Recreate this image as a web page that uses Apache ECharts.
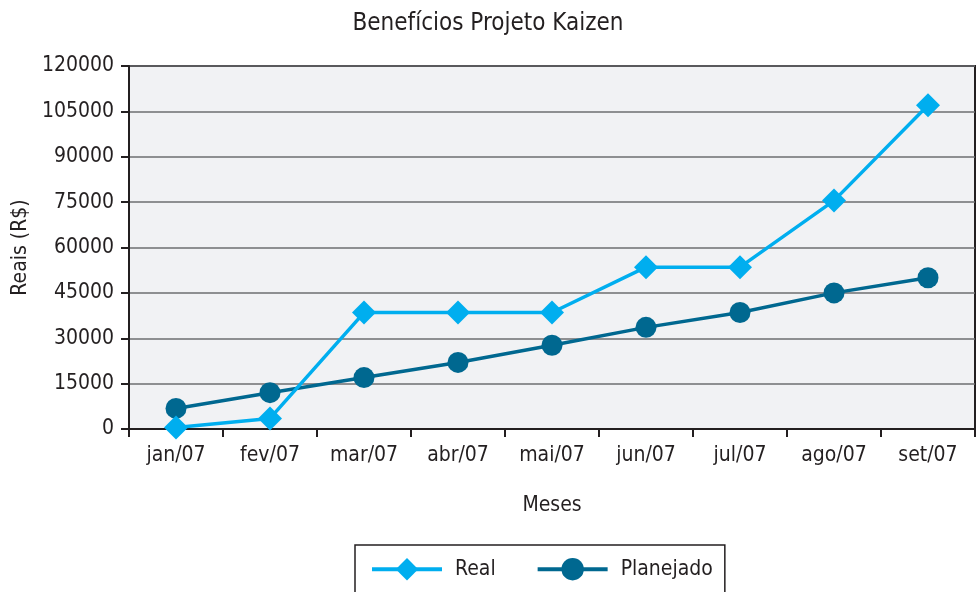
<!DOCTYPE html>
<html>
<head>
<meta charset="utf-8">
<script src="https://cdn.jsdelivr.net/npm/echarts@6/dist/echarts.min.js"></script>
<style>
html, body { margin: 0; padding: 0; background: #fff; }
#chart { width: 976px; height: 592px; }
</style>
</head>
<body>
<div id="chart"></div>
<script>
var meses = ['jan/07', 'fev/07', 'mar/07', 'abr/07', 'mai/07', 'jun/07', 'jul/07', 'ago/07', 'set/07'];
var real = [500, 3500, 38500, 38500, 38500, 53500, 53500, 75500, 107000];
var planejado = [6800, 12000, 17000, 22000, 27700, 33600, 38500, 45000, 50000];

var fonte = '"Liberation Sans Narrow", "DejaVu Sans Condensed", sans-serif';
var corTexto = '#231f20';

var myChart = echarts.init(document.getElementById('chart'));

var option = {
    animation: false,
    title: {
        text: 'Benefícios Projeto Kaizen',
        left: 'center',
        top: 7,
        textStyle: { fontFamily: fonte, fontSize: 24, fontWeight: 'normal', color: corTexto }
    },
    legend: {
        data: ['Real', 'Planejado'],
        left: 355,
        top: 545,
        itemWidth: 70,
        itemHeight: 28,
        itemGap: 40,
        padding: [13, 12, 40, 15],
        borderColor: corTexto,
        borderWidth: 1.5,
        lineStyle: { width: 4 },
        textStyle: { fontFamily: fonte, fontSize: 21, color: corTexto, padding: [0, 0, 0, 8] }
    },
    grid: {
        left: 129,
        right: 1,
        top: 66,
        bottom: 163,
        show: true,
        backgroundColor: '#f1f2f4',
        borderColor: corTexto,
        borderWidth: 2
    },
    xAxis: {
        type: 'category',
        data: meses,
        boundaryGap: true,
        name: 'Meses',
        nameLocation: 'middle',
        nameGap: 66,
        nameTextStyle: { fontFamily: fonte, fontSize: 21, color: corTexto },
        axisLine: { lineStyle: { color: corTexto, width: 2 } },
        axisTick: { show: true, length: 8, lineStyle: { color: corTexto, width: 2 } },
        axisLabel: { fontFamily: fonte, fontSize: 21, color: corTexto, margin: 16 },
        splitLine: { show: false }
    },
    yAxis: {
        type: 'value',
        min: 0,
        max: 120000,
        interval: 15000,
        name: 'Reais (R$)',
        nameLocation: 'middle',
        nameGap: 93,
        nameTextStyle: { fontFamily: fonte, fontSize: 21, color: corTexto },
        axisLine: { show: true, lineStyle: { color: corTexto, width: 2 } },
        axisTick: { show: true, length: 8, lineStyle: { color: corTexto, width: 2 } },
        axisLabel: {
            fontFamily: fonte, fontSize: 21, color: corTexto, margin: 15,
            formatter: function (v) { return String(v); }
        },
        splitLine: { lineStyle: { color: '#6d6e71', width: 1.5 } }
    },
    series: [
        {
            name: 'Real',
            type: 'line',
            data: real,
            symbol: 'diamond',
            symbolSize: 24,
            z: 3,
            itemStyle: { color: '#00aeef' },
            lineStyle: { color: '#00aeef', width: 3.5 }
        },
        {
            name: 'Planejado',
            type: 'line',
            data: planejado,
            symbol: 'circle',
            symbolSize: 21,
            z: 2,
            itemStyle: { color: '#006890' },
            lineStyle: { color: '#006890', width: 3.5 }
        }
    ]
};

if (option && typeof option === "object") {
    myChart.setOption(option, true);
}
</script>
</body>
</html>
